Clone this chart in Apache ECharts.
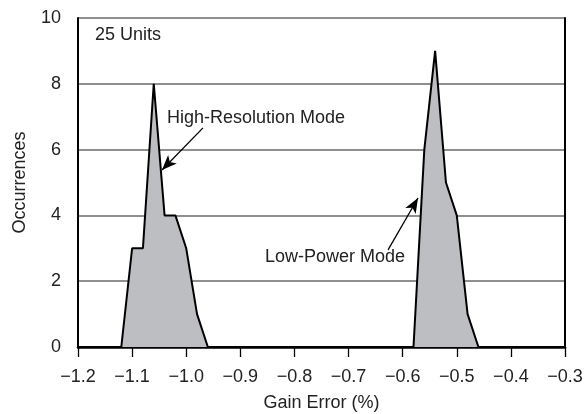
<!DOCTYPE html>
<html>
<head>
<meta charset="utf-8">
<script src="https://cdn.jsdelivr.net/npm/echarts@6/dist/echarts.min.js"></script>
<style>
  html, body { margin: 0; padding: 0; background: #fff; }
  #chart { width: 585px; height: 414px; }
</style>
</head>
<body>
<div id="chart"></div>
<script>
  // gain error bins (%) and counts for each mode
  var hiResX = [-1.12, -1.10, -1.08, -1.06, -1.04, -1.02, -1.00, -0.98, -0.96]
  var hiResY = [0, 3, 3, 8, 4, 4, 3, 1, 0]
  var lowPwrX = [-0.58, -0.56, -0.54, -0.52, -0.50, -0.48, -0.46]
  var lowPwrY = [0, 6, 9, 5, 4, 1, 0]

  var xTicks = [-1.2, -0.3, 0.1]   // min, max, step
  var yTicks = [0, 10, 2]

  // annotation anchors, in data units
  var notes = [
    { text: '25 Units', at: [-1.1686, 9.48] },
    { text: 'High-Resolution Mode', at: [-1.0355, 6.96], from: [-0.969, 6.66], to: [-1.0448, 5.38] },
    { text: 'Low-Power Mode', at: [-0.8544, 2.74], from: [-0.627, 2.95], to: [-0.5717, 4.53] }
  ]

  var font = 'Liberation Sans, Arial, Helvetica, sans-serif'
  var txt = '#222'
  var fs = 18

  function pairs(xs, ys) {
    return xs.map(function (x, i) { return [x, ys[i]] })
  }
  function minus(v) {
    return v.toFixed(1).replace('-', '\u2212')
  }

  var chart = echarts.init(document.getElementById('chart'))

  var arrows = notes.filter(function (n) { return n.from }).map(function (n) {
    return [{ coord: n.from, symbol: 'none' }, { coord: n.to, symbol: 'arrow' }]
  })

  var option = {
    animation: false,
    grid: { left: 78, right: 20, top: 18, bottom: 67, containLabel: false, outerBoundsMode: 'none' },
    xAxis: [
      {
        type: 'value',
        min: xTicks[0], max: xTicks[1], interval: xTicks[2],
        name: 'Gain Error (%)',
        nameLocation: 'middle',
        nameGap: 47,
        nameTextStyle: { fontFamily: font, fontSize: fs, color: txt },
        axisLine: { show: true, lineStyle: { color: '#000', width: 2.5 } },
        axisTick: { show: true, length: 10, lineStyle: { color: '#000', width: 1.3 } },
        axisLabel: { fontFamily: font, fontSize: fs, color: txt, margin: 21, formatter: minus },
        splitLine: { show: false }
      },
      {
        type: 'value', position: 'top',
        min: xTicks[0], max: xTicks[1], interval: xTicks[2],
        axisLine: { show: true, lineStyle: { color: '#000', width: 2 } },
        axisTick: { show: false }, axisLabel: { show: false }, splitLine: { show: false }
      }
    ],
    yAxis: [
      {
        type: 'value',
        min: yTicks[0], max: yTicks[1], interval: yTicks[2],
        name: 'Occurrences',
        nameLocation: 'middle',
        nameRotate: 90,
        nameGap: 49,
        nameTextStyle: { fontFamily: font, fontSize: fs, color: txt },
        axisLine: { show: true, lineStyle: { color: '#000', width: 2 } },
        axisTick: { show: false },
        axisLabel: { fontFamily: font, fontSize: fs, color: txt, margin: 17 },
        splitLine: { show: true, lineStyle: { color: '#6a6a6a', width: 1.5 } }
      },
      {
        type: 'value', position: 'right',
        min: yTicks[0], max: yTicks[1], interval: yTicks[2],
        axisLine: { show: true, lineStyle: { color: '#000', width: 2 } },
        axisTick: { show: false }, axisLabel: { show: false }, splitLine: { show: false }
      }
    ],
    series: [
      {
        name: 'High-Resolution Mode',
        type: 'line',
        data: pairs(hiResX, hiResY),
        symbol: 'none',
        z: 3,
        lineStyle: { color: '#000', width: 2 },
        areaStyle: { color: '#bdbec2', opacity: 1 },
        markLine: {
          silent: true,
          symbolSize: [9, 15],
          label: { show: false },
          lineStyle: { color: '#000', width: 1.3, type: 'solid' },
          data: arrows
        }
      },
      {
        name: 'Low-Power Mode',
        type: 'line',
        data: pairs(lowPwrX, lowPwrY),
        symbol: 'none',
        z: 3,
        lineStyle: { color: '#000', width: 2 },
        areaStyle: { color: '#bdbec2', opacity: 1 }
      }
    ]
  }
  chart.setOption(option)

  // place the text notes from their data anchors
  chart.setOption({
    graphic: notes.map(function (n) {
      var p = chart.convertToPixel({ xAxisIndex: 0, yAxisIndex: 0 }, n.at)
      return {
        type: 'text',
        x: p[0], y: p[1],
        z: 10,
        style: {
          text: n.text,
          fontFamily: font,
          fontSize: fs,
          fill: txt,
          textAlign: 'left',
          textVerticalAlign: 'middle'
        }
      }
    })
  })
</script>
</body>
</html>
